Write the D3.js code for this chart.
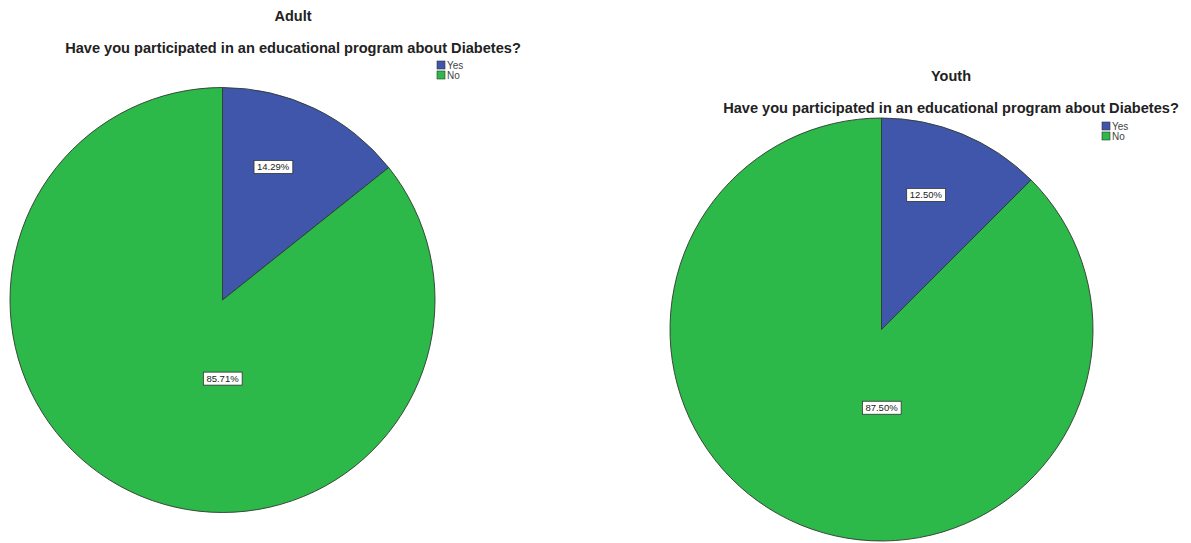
<!DOCTYPE html>
<html>
<head>
<meta charset="utf-8">
<script src="https://cdn.jsdelivr.net/npm/d3@7"></script>
<style>
  html, body { margin: 0; padding: 0; background: #fff; }
  svg { display: block; font-family: "Liberation Sans", Arial, sans-serif; }
</style>
</head>
<body>
<svg id="chart" width="1191" height="543"></svg>
<script>
// Survey answers, in percent
const answers = ["Yes", "No"];
const adultPct = [14.29, 85.71];
const youthPct = [12.50, 87.50];
const question = "Have you participated in an educational program about Diabetes?";
const groupNames = ["Adult", "Youth"];

const colour = d3.scaleOrdinal().domain(answers).range(["#3f56ab", "#2db84a"]);

const svg = d3.select("#chart");

// Layout of each panel: pie centre/radius, title and legend anchors
const panels = [
  { name: groupNames[0], values: adultPct, cx: 222.5, cy: 300, r: 212.5,
    titleX: 293, titleY: 21, subY: 53, legendX: 437, legendY: 61 },
  { name: groupNames[1], values: youthPct, cx: 881.5, cy: 329.5, r: 211.5,
    titleX: 951, titleY: 81, subY: 113, legendX: 1102, legendY: 122 }
];

const pie = d3.pie().sort(null).startAngle(0).endAngle(2 * Math.PI);

panels.forEach(p => {
  const data = answers.map((a, i) => ({ answer: a, value: p.values[i] }));
  const arcs = pie.value(d => d.value)(data);
  const arc = d3.arc().innerRadius(0).outerRadius(p.r);

  const g = svg.append("g");

  g.append("text")
    .attr("x", p.titleX).attr("y", p.titleY)
    .attr("text-anchor", "middle")
    .attr("font-weight", "bold").attr("font-size", 14.5)
    .attr("fill", "#222")
    .text(p.name);

  g.append("text")
    .attr("x", p.titleX).attr("y", p.subY)
    .attr("text-anchor", "middle")
    .attr("font-weight", "bold").attr("font-size", 14.6)
    .attr("fill", "#222")
    .text(question);

  const pg = g.append("g").attr("transform", `translate(${p.cx},${p.cy})`);

  pg.selectAll("path.slice")
    .data(arcs)
    .join("path")
    .attr("class", "slice")
    .attr("d", arc)
    .attr("fill", d => colour(d.data.answer))
    .attr("stroke", "#2f3a30")
    .attr("stroke-width", 0.9);

  // Value labels: small slice label sits toward the leading edge,
  // large slice label sits straight below the centre
  const labelPos = d => {
    const small = (d.endAngle - d.startAngle) < Math.PI;
    const ang = small ? (d.startAngle + d.endAngle) / 2 * 0.81 : Math.PI;
    const rr = small ? p.r * 0.67 : p.r * 0.37;
    return [Math.sin(ang) * rr, -Math.cos(ang) * rr];
  };

  const lab = pg.selectAll("g.lab")
    .data(arcs)
    .join("g")
    .attr("class", "lab")
    .attr("transform", d => `translate(${labelPos(d)})`);

  lab.append("text")
    .attr("text-anchor", "middle")
    .attr("dy", "0.35em")
    .attr("font-size", 9.5)
    .attr("fill", "#222")
    .text(d => d.data.value.toFixed(2) + "%")
    .each(function () {
      const b = this.getBBox();
      d3.select(this.parentNode).insert("rect", "text")
        .attr("x", b.x - 3).attr("y", -6.5)
        .attr("width", b.width + 6).attr("height", 13)
        .attr("fill", "#fff")
        .attr("stroke", "#333").attr("stroke-width", 0.8);
    });

  // Legend
  const leg = g.selectAll("g.leg")
    .data(answers)
    .join("g")
    .attr("class", "leg")
    .attr("transform", (d, i) => `translate(${p.legendX},${p.legendY + i * 10})`);

  leg.append("rect")
    .attr("width", 8).attr("height", 8)
    .attr("fill", d => colour(d))
    .attr("stroke", "#333").attr("stroke-width", 0.6);

  leg.append("text")
    .attr("x", 10).attr("y", 7.5)
    .attr("font-size", 10)
    .attr("fill", "#444")
    .text(d => d);
});
</script>
</body>
</html>
